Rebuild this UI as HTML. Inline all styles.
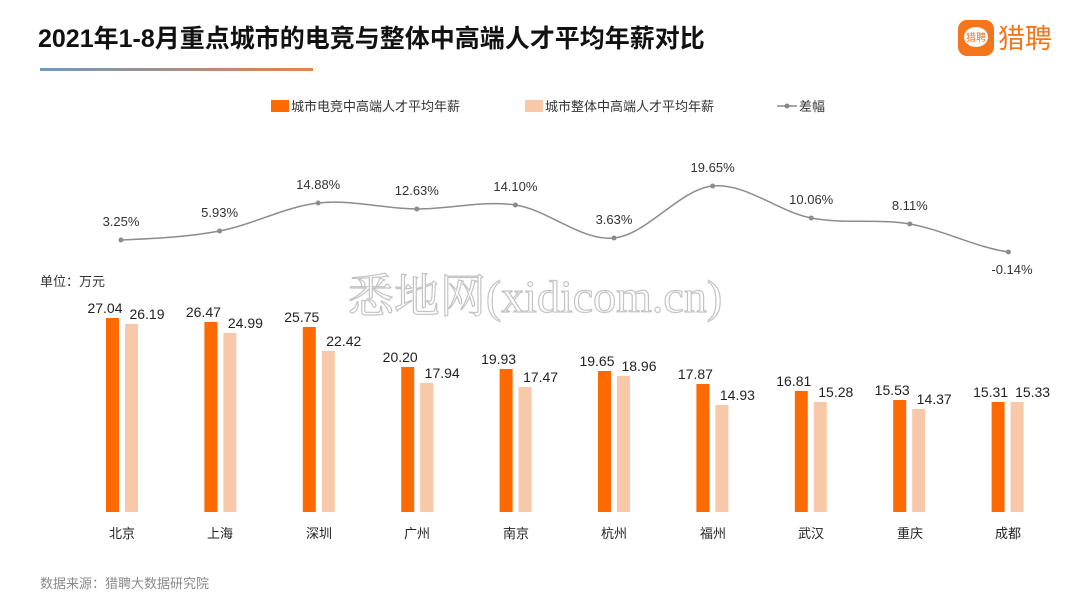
<!DOCTYPE html><html><head><meta charset="utf-8"><style>
body{margin:0;background:#fff;width:1080px;height:608px;overflow:hidden;font-family:"Liberation Sans","Noto Sans CJK SC",sans-serif}
</style></head><body>
<svg width="1080" height="608" viewBox="0 0 1080 608" xmlns="http://www.w3.org/2000/svg" font-family="Liberation Sans, Noto Sans CJK SC, sans-serif">
<defs><linearGradient id="g" x1="0" x2="1"><stop offset="0" stop-color="#6b9ac4"/><stop offset="1" stop-color="#e8834a"/></linearGradient></defs>
<text x="38" y="47" font-size="25" font-weight="bold" fill="#111">2021年1-8月重点城市的电竞与整体中高端人才平均年薪对比</text>
<rect x="40" y="68" width="273" height="3" fill="url(#g)"/>
<rect x="958" y="20" width="36" height="36" rx="9" fill="#f5761a"/>
<ellipse cx="976" cy="37" rx="12" ry="10" fill="#fff"/>
<text x="976" y="41" font-size="10" fill="#f5761a" text-anchor="middle">猎聘</text>
<text x="998" y="48" font-size="27" fill="#f5761a">猎聘</text>
<g font-size="13" fill="#333">
<rect x="271" y="100" width="18" height="12" fill="#ff6a00"/><text x="291" y="111">城市电竞中高端人才平均年薪</text>
<rect x="525" y="100" width="18" height="12" fill="#f7c9a8"/><text x="545" y="111">城市整体中高端人才平均年薪</text>
<line x1="777" y1="106" x2="797" y2="106" stroke="#888" stroke-width="1.5"/><circle cx="787" cy="106" r="2.5" fill="#888"/><text x="799" y="111">差幅</text>
<text x="40" y="286">单位：万元</text>
</g>
<text x="535" y="312" font-size="46" font-family="Liberation Serif, Noto Serif CJK SC, serif" fill="#fff" stroke="#c4c4c4" stroke-width="1.2" text-anchor="middle">悉地网(xidicom.cn)</text>
<path d="M121,240 C153.9,238.5 186.7,237.2 219.6,231 C252.5,224.8 285.3,206.7 318.2,203 C351.1,199.3 383.9,208.7 416.8,209 C449.7,209.3 482.5,200.2 515.4,205 C548.3,209.8 581.1,241.2 614,238 C646.9,234.8 679.7,189.3 712.6,186 C745.5,182.7 778.3,211.7 811.2,218 C844.1,224.3 876.9,218.3 909.8,224 C942.7,229.7 975.5,247.3 1008.4,252" fill="none" stroke="#8c8c8c" stroke-width="1.5"/>
<g fill="#8c8c8c"><circle cx="121" cy="240" r="2.5"/><circle cx="219.6" cy="231" r="2.5"/><circle cx="318.2" cy="203" r="2.5"/><circle cx="416.8" cy="209" r="2.5"/><circle cx="515.4" cy="205" r="2.5"/><circle cx="614" cy="238" r="2.5"/><circle cx="712.6" cy="186" r="2.5"/><circle cx="811.2" cy="218" r="2.5"/><circle cx="909.8" cy="224" r="2.5"/><circle cx="1008.4" cy="252" r="2.5"/></g>
<g font-size="13" fill="#333" text-anchor="middle">
<text x="121" y="226">3.25%</text><text x="219.6" y="217">5.93%</text><text x="318.2" y="189">14.88%</text><text x="416.8" y="195">12.63%</text><text x="515.4" y="191">14.10%</text><text x="614" y="224">3.63%</text><text x="712.6" y="172">19.65%</text><text x="811.2" y="204">10.06%</text><text x="909.8" y="210">8.11%</text><text x="1012" y="274">-0.14%</text>
</g>
<g font-size="14" fill="#222" text-anchor="middle">
<rect x="106" y="318" width="13" height="194" fill="#ff6a00"/><rect x="125" y="324" width="13" height="188" fill="#f7c9a8"/><text x="105" y="313">27.04</text><text x="147" y="319">26.19</text><text x="122" y="538" font-size="13">北京</text>
<rect x="204.4" y="322" width="13" height="190" fill="#ff6a00"/><rect x="223.4" y="333" width="13" height="179" fill="#f7c9a8"/><text x="203.4" y="317">26.47</text><text x="245.4" y="328">24.99</text><text x="220" y="538" font-size="13">上海</text>
<rect x="302.8" y="327" width="13" height="185" fill="#ff6a00"/><rect x="321.8" y="351" width="13" height="161" fill="#f7c9a8"/><text x="301.8" y="322">25.75</text><text x="343.8" y="346">22.42</text><text x="319" y="538" font-size="13">深圳</text>
<rect x="401.2" y="367" width="13" height="145" fill="#ff6a00"/><rect x="420.2" y="383" width="13" height="129" fill="#f7c9a8"/><text x="400.2" y="362">20.20</text><text x="442.2" y="378">17.94</text><text x="417" y="538" font-size="13">广州</text>
<rect x="499.6" y="369" width="13" height="143" fill="#ff6a00"/><rect x="518.6" y="387" width="13" height="125" fill="#f7c9a8"/><text x="498.6" y="364">19.93</text><text x="540.6" y="382">17.47</text><text x="516" y="538" font-size="13">南京</text>
<rect x="598" y="371" width="13" height="141" fill="#ff6a00"/><rect x="617" y="376" width="13" height="136" fill="#f7c9a8"/><text x="597" y="366">19.65</text><text x="639" y="371">18.96</text><text x="614" y="538" font-size="13">杭州</text>
<rect x="696.4" y="384" width="13" height="128" fill="#ff6a00"/><rect x="715.4" y="405" width="13" height="107" fill="#f7c9a8"/><text x="695.4" y="379">17.87</text><text x="737.4" y="400">14.93</text><text x="713" y="538" font-size="13">福州</text>
<rect x="794.8" y="391" width="13" height="121" fill="#ff6a00"/><rect x="813.8" y="402" width="13" height="110" fill="#f7c9a8"/><text x="793.8" y="386">16.81</text><text x="835.8" y="397">15.28</text><text x="811" y="538" font-size="13">武汉</text>
<rect x="893.2" y="400" width="13" height="112" fill="#ff6a00"/><rect x="912.2" y="409" width="13" height="103" fill="#f7c9a8"/><text x="892.2" y="395">15.53</text><text x="934.2" y="404">14.37</text><text x="910" y="538" font-size="13">重庆</text>
<rect x="991.6" y="402" width="13" height="110" fill="#ff6a00"/><rect x="1010.6" y="402" width="13" height="110" fill="#f7c9a8"/><text x="990.6" y="397">15.31</text><text x="1032.6" y="397">15.33</text><text x="1008" y="538" font-size="13">成都</text>
</g>
<text x="40" y="588" font-size="13" fill="#8a8a8a">数据来源：猎聘大数据研究院</text>
</svg>
</body></html>
